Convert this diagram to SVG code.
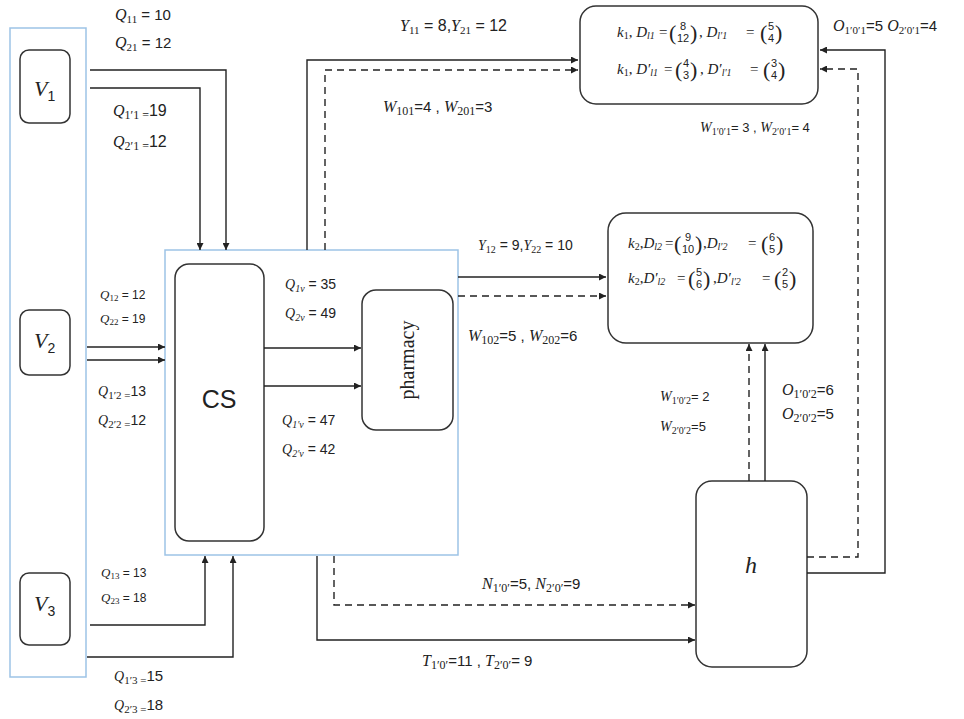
<svg xmlns="http://www.w3.org/2000/svg" width="964" height="719" viewBox="0 0 964 719">
<style>
.bg{fill:#fff}
.blue{fill:none;stroke:#9dc3e6;stroke-width:1.5}
.box{fill:#fff;stroke:#333;stroke-width:1.5}
.c{fill:none;stroke:#222;stroke-width:1.4}
.d{stroke-dasharray:7 5}
text{font-family:"Liberation Serif",serif;fill:#222}
.l{font-size:16px}
.s{font-size:14px}
.m{font-size:13px}
.k{font-size:15px}
.i{font-style:italic}
.n{font-family:"Liberation Sans",sans-serif}
.p{font-family:"Liberation Serif",serif;font-size:22px}
.v{font-family:"Liberation Sans",sans-serif;font-size:11px;text-anchor:middle}
</style>
<defs>
<marker id="a" viewBox="0 0 10 10" refX="10" refY="5" markerWidth="9" markerHeight="7" markerUnits="userSpaceOnUse" orient="auto">
<path d="M0,0L10,5L0,10z" fill="#222"/>
</marker>
</defs>
<rect class="bg" x="0" y="0" width="964" height="719"/>

<g id="containers">
<rect class="blue" x="10" y="28" width="76" height="649"/>
<rect class="blue" x="165" y="250" width="293" height="305"/>
</g>

<g id="V1"><rect class="box" x="20" y="50" width="50" height="73" rx="9"/>
<text x="34" y="96" font-size="22" class="i">V<tspan font-size="14" dy="5" font-style="normal" class="n">1</tspan></text></g>
<g id="V2"><rect class="box" x="20" y="310" width="50" height="65" rx="9"/>
<text x="34" y="348" font-size="22" class="i">V<tspan font-size="14" dy="5" font-style="normal" class="n">2</tspan></text></g>
<g id="V3"><rect class="box" x="20" y="573" width="50" height="72" rx="9"/>
<text x="34" y="611" font-size="22" class="i">V<tspan font-size="14" dy="5" font-style="normal" class="n">3</tspan></text></g>

<g id="CS"><rect class="box" x="175" y="264" width="89" height="277" rx="14"/>
<text x="219" y="408" font-size="25" class="n" text-anchor="middle">CS</text></g>

<g id="pharmacy"><rect class="box" x="362" y="290" width="91" height="140" rx="14"/>
<text transform="translate(414,360) rotate(-90)" font-size="20" text-anchor="middle">pharmacy</text></g>

<g id="k1"><rect class="box" x="580" y="6" width="238" height="98" rx="16"/>
<text x="617" y="37" class="k"><tspan class="i">k</tspan><tspan font-size="10" dy="2">1</tspan><tspan dy="-2">, </tspan><tspan class="i">D</tspan><tspan font-size="10" dy="2" class="i">l1</tspan><tspan dy="-2" x="659">=</tspan></text>
<text x="669" y="40" class="p">(</text><text x="683" y="30" class="v">8</text><text x="683" y="42" class="v">12</text><text x="690" y="40" class="p">)</text>
<text x="699" y="37" class="k">, <tspan class="i">D</tspan><tspan font-size="10" dy="2" class="i">l′1</tspan><tspan dy="-2" x="746">=</tspan></text>
<text x="760" y="40" class="p">(</text><text x="771" y="30" class="v">5</text><text x="771" y="42" class="v">4</text><text x="775" y="40" class="p">)</text>
<text x="617" y="74" class="k"><tspan class="i">k</tspan><tspan font-size="10" dy="2">1</tspan><tspan dy="-2">, </tspan><tspan class="i">D′</tspan><tspan font-size="10" dy="2" class="i">l1</tspan><tspan dy="-2" x="664">=</tspan></text>
<text x="675" y="77" class="p">(</text><text x="686" y="67" class="v">4</text><text x="686" y="79" class="v">3</text><text x="690" y="77" class="p">)</text>
<text x="700" y="74" class="k">, <tspan class="i">D′</tspan><tspan font-size="10" dy="2" class="i">l′1</tspan><tspan dy="-2" x="750">=</tspan></text>
<text x="763" y="77" class="p">(</text><text x="774" y="67" class="v">3</text><text x="774" y="79" class="v">4</text><text x="778" y="77" class="p">)</text>
</g>

<g id="k2"><rect class="box" x="608" y="213" width="205" height="130" rx="18"/>
<text x="628" y="248" class="k"><tspan class="i">k</tspan><tspan font-size="10" dy="2">2</tspan><tspan dy="-2">,</tspan><tspan class="i">D</tspan><tspan font-size="10" dy="2" class="i">l2</tspan><tspan dy="-2" x="665">=</tspan></text>
<text x="674" y="251" class="p">(</text><text x="688" y="241" class="v">9</text><text x="688" y="253" class="v">10</text><text x="695" y="251" class="p">)</text>
<text x="703" y="248" class="k">,<tspan class="i">D</tspan><tspan font-size="10" dy="2" class="i">l′2</tspan><tspan dy="-2" x="748">=</tspan></text>
<text x="761" y="251" class="p">(</text><text x="772" y="241" class="v">6</text><text x="772" y="253" class="v">5</text><text x="776" y="251" class="p">)</text>
<text x="628" y="283" class="k"><tspan class="i">k</tspan><tspan font-size="10" dy="2">2</tspan><tspan dy="-2">,</tspan><tspan class="i">D′</tspan><tspan font-size="10" dy="2" class="i">l2</tspan><tspan dy="-2" x="677">=</tspan></text>
<text x="688" y="286" class="p">(</text><text x="699" y="276" class="v">5</text><text x="699" y="288" class="v">6</text><text x="703" y="286" class="p">)</text>
<text x="713" y="283" class="k">,<tspan class="i">D′</tspan><tspan font-size="10" dy="2" class="i">l′2</tspan><tspan dy="-2" x="762">=</tspan></text>
<text x="774" y="286" class="p">(</text><text x="785" y="276" class="v">2</text><text x="785" y="288" class="v">5</text><text x="789" y="286" class="p">)</text>
</g>

<g id="h"><rect class="box" x="696" y="481" width="111" height="186" rx="16"/>
<text x="751" y="573" font-size="24" class="i" text-anchor="middle">h</text></g>

<g id="connectors">
<path class="c" d="M90,70H226V250" marker-end="url(#a)"/>
<path class="c" d="M90,88H200V250" marker-end="url(#a)"/>
<path class="c" d="M87,347H165" marker-end="url(#a)"/>
<path class="c" d="M87,360H165" marker-end="url(#a)"/>
<path class="c" d="M90,625H205V556" marker-end="url(#a)"/>
<path class="c" d="M87,657H233V556" marker-end="url(#a)"/>
<path class="c" d="M264,348H361" marker-end="url(#a)"/>
<path class="c" d="M264,386H361" marker-end="url(#a)"/>
<path class="c" d="M307,250V60H578" marker-end="url(#a)"/>
<path class="c d" d="M325,250V70H578" marker-end="url(#a)"/>
<path class="c" d="M458,277H606" marker-end="url(#a)"/>
<path class="c d" d="M458,296H606" marker-end="url(#a)"/>
<path class="c" d="M317,556V640H695" marker-end="url(#a)"/>
<path class="c d" d="M334,556V605H695" marker-end="url(#a)"/>
<path class="c d" d="M749,481V344" marker-end="url(#a)"/>
<path class="c" d="M765,481V344" marker-end="url(#a)"/>
<path class="c" d="M807,573H885V50H820" marker-end="url(#a)"/>
<path class="c d" d="M807,557H858V69H820" marker-end="url(#a)"/>
</g>

<g id="labels">
<text x="115" y="20" class="l"><tspan class="i">Q</tspan><tspan font-size="11" dy="3">11</tspan><tspan dy="-3" class="n" font-size="15"> = 10</tspan></text>
<text x="115" y="48" class="l"><tspan class="i">Q</tspan><tspan font-size="11" dy="3">21</tspan><tspan dy="-3" class="n" font-size="15"> = 12</tspan></text>
<text x="113" y="116" class="l"><tspan class="i">Q</tspan><tspan font-size="12" dy="3">1′1 =</tspan><tspan dy="-3" class="n" font-size="16">19</tspan></text>
<text x="113" y="147" class="l"><tspan class="i">Q</tspan><tspan font-size="12" dy="3">2′1 =</tspan><tspan dy="-3" class="n" font-size="16">12</tspan></text>

<text x="100" y="299" class="m"><tspan class="i">Q</tspan><tspan font-size="9" dy="2">12</tspan><tspan dy="-2" class="n" font-size="12"> = 12</tspan></text>
<text x="100" y="323" class="m"><tspan class="i">Q</tspan><tspan font-size="9" dy="2">22</tspan><tspan dy="-2" class="n" font-size="12"> = 19</tspan></text>
<text x="98" y="396" class="s"><tspan class="i">Q</tspan><tspan font-size="11" dy="3">1′2 =</tspan><tspan dy="-3" class="n" font-size="14">13</tspan></text>
<text x="98" y="425" class="s"><tspan class="i">Q</tspan><tspan font-size="11" dy="3">2′2 =</tspan><tspan dy="-3" class="n" font-size="14">12</tspan></text>

<text x="101" y="577" class="m"><tspan class="i">Q</tspan><tspan font-size="9" dy="2">13</tspan><tspan dy="-2" class="n" font-size="12"> = 13</tspan></text>
<text x="101" y="602" class="m"><tspan class="i">Q</tspan><tspan font-size="9" dy="2">23</tspan><tspan dy="-2" class="n" font-size="12"> = 18</tspan></text>
<text x="114" y="681" class="s"><tspan class="i">Q</tspan><tspan font-size="11" dy="3">1′3 =</tspan><tspan dy="-3" class="n" font-size="15">15</tspan></text>
<text x="114" y="710" class="s"><tspan class="i">Q</tspan><tspan font-size="11" dy="3">2′3 =</tspan><tspan dy="-3" class="n" font-size="15">18</tspan></text>

<text x="285" y="289" class="s"><tspan class="i">Q</tspan><tspan font-size="10" dy="3" class="i">1v</tspan><tspan dy="-3" class="n"> = 35</tspan></text>
<text x="285" y="318" class="s"><tspan class="i">Q</tspan><tspan font-size="10" dy="3" class="i">2v</tspan><tspan dy="-3" class="n"> = 49</tspan></text>
<text x="282" y="425" class="s"><tspan class="i">Q</tspan><tspan font-size="10" dy="3" class="i">1′v</tspan><tspan dy="-3" class="n"> = 47</tspan></text>
<text x="282" y="454" class="s"><tspan class="i">Q</tspan><tspan font-size="10" dy="3" class="i">2′v</tspan><tspan dy="-3" class="n"> = 42</tspan></text>

<text x="400" y="31" class="l"><tspan class="i">Y</tspan><tspan font-size="11" dy="3">11</tspan><tspan dy="-3" class="n"> = 8,</tspan><tspan class="i">Y</tspan><tspan font-size="11" dy="3">21</tspan><tspan dy="-3" class="n"> = 12</tspan></text>
<text x="383" y="112" class="l"><tspan class="i">W</tspan><tspan font-size="12" dy="3">101</tspan><tspan dy="-3" class="n" font-size="15">=4 , </tspan><tspan class="i">W</tspan><tspan font-size="12" dy="3">201</tspan><tspan dy="-3" class="n" font-size="15">=3</tspan></text>
<text x="833" y="31" class="l"><tspan class="i">O</tspan><tspan font-size="11" dy="3">1′0′1</tspan><tspan dy="-3" class="n" font-size="15">=5 </tspan><tspan class="i">O</tspan><tspan font-size="11" dy="3">2′0′1</tspan><tspan dy="-3" class="n" font-size="15">=4</tspan></text>
<text x="700" y="132" class="s"><tspan class="i">W</tspan><tspan font-size="10" dy="3">1′0′1</tspan><tspan dy="-3" class="n" font-size="13">= 3 , </tspan><tspan class="i">W</tspan><tspan font-size="10" dy="3">2′0′1</tspan><tspan dy="-3" class="n" font-size="13">= 4</tspan></text>

<text x="478" y="250" class="s"><tspan class="i">Y</tspan><tspan font-size="10" dy="3">12</tspan><tspan dy="-3" class="n"> = 9,</tspan><tspan class="i">Y</tspan><tspan font-size="10" dy="3">22</tspan><tspan dy="-3" class="n"> = 10</tspan></text>
<text x="468" y="341" class="l"><tspan class="i">W</tspan><tspan font-size="12" dy="3">102</tspan><tspan dy="-3" class="n" font-size="15">=5 , </tspan><tspan class="i">W</tspan><tspan font-size="12" dy="3">202</tspan><tspan dy="-3" class="n" font-size="15">=6</tspan></text>

<text x="660" y="401" class="s"><tspan class="i">W</tspan><tspan font-size="10" dy="3">1′0′2</tspan><tspan dy="-3" class="n" font-size="13">= 2</tspan></text>
<text x="660" y="431" class="s"><tspan class="i">W</tspan><tspan font-size="10" dy="3">2′0′2</tspan><tspan dy="-3" class="n" font-size="13">=5</tspan></text>
<text x="782" y="395" class="l"><tspan class="i">O</tspan><tspan font-size="12" dy="3">1′0′2</tspan><tspan dy="-3" class="n" font-size="15">=6</tspan></text>
<text x="782" y="419" class="l"><tspan class="i">O</tspan><tspan font-size="12" dy="3">2′0′2</tspan><tspan dy="-3" class="n" font-size="15">=5</tspan></text>

<text x="482" y="589" class="l"><tspan class="i">N</tspan><tspan font-size="12" dy="3">1′0′</tspan><tspan dy="-3" class="n" font-size="15">=5, </tspan><tspan class="i">N</tspan><tspan font-size="12" dy="3">2′0′</tspan><tspan dy="-3" class="n" font-size="15">=9</tspan></text>
<text x="422" y="666" class="l"><tspan class="i">T</tspan><tspan font-size="12" dy="3">1′0′</tspan><tspan dy="-3" class="n" font-size="15">=11 , </tspan><tspan class="i">T</tspan><tspan font-size="12" dy="3">2′0′</tspan><tspan dy="-3" class="n" font-size="15">= 9</tspan></text>
</g>
</svg>
